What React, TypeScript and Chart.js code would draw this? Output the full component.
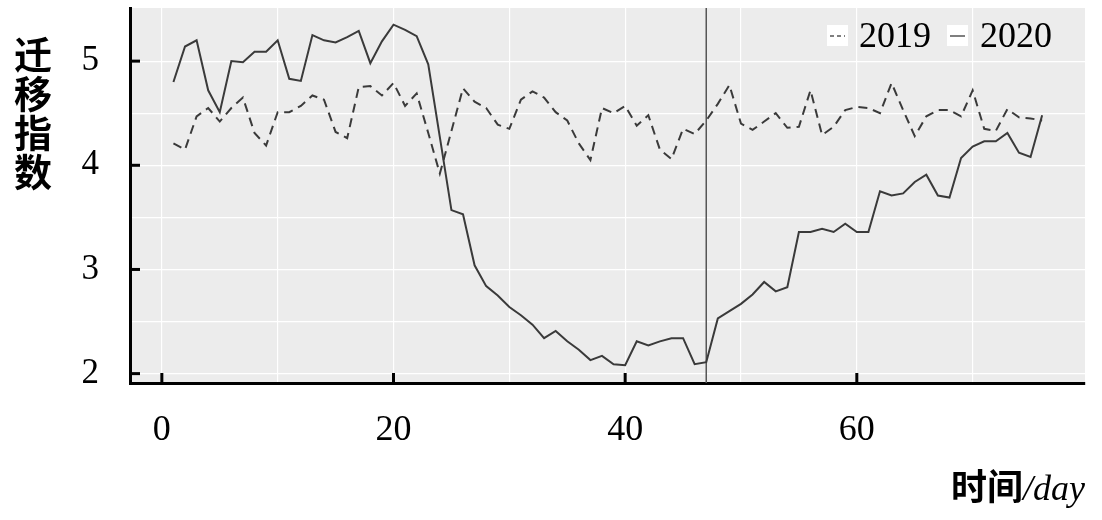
import React, { useEffect, useRef } from "react";
import { Chart, registerables } from "chart.js";

Chart.register(...registerables);

const DAYS = Array.from({ length: 76 }, (_, i) => i + 1);

const Y2019 = [
  4.21, 4.15, 4.47, 4.55, 4.42, 4.55, 4.65, 4.31, 4.19, 4.51,
  4.51, 4.57, 4.67, 4.63, 4.32, 4.26, 4.75, 4.76, 4.67, 4.79,
  4.57, 4.69, 4.31, 3.92, 4.33, 4.74, 4.61, 4.55, 4.39, 4.35,
  4.63, 4.71, 4.65, 4.51, 4.43, 4.21, 4.05, 4.55, 4.5, 4.57,
  4.38, 4.48, 4.15, 4.06, 4.35, 4.3, 4.43, 4.59, 4.77, 4.4,
  4.34, 4.42, 4.5, 4.36, 4.37, 4.72, 4.29, 4.37, 4.53, 4.56,
  4.55, 4.5, 4.79, 4.53, 4.28, 4.47, 4.53, 4.53, 4.47, 4.72,
  4.35, 4.33, 4.54, 4.46, 4.45, 4.43,
];

const Y2020 = [
  4.8, 5.14, 5.2, 4.72, 4.51, 5.0, 4.99, 5.09, 5.09, 5.2,
  4.83, 4.81, 5.25, 5.2, 5.18, 5.23, 5.29, 4.98, 5.19, 5.35,
  5.3, 5.24, 4.97, 4.27, 3.57, 3.53, 3.04, 2.84, 2.75, 2.64,
  2.56, 2.47, 2.34, 2.41, 2.31, 2.23, 2.13, 2.17, 2.09, 2.08,
  2.31, 2.27, 2.31, 2.34, 2.34, 2.09, 2.11, 2.53, 2.6, 2.67,
  2.76, 2.88, 2.79, 2.83, 3.36, 3.36, 3.39, 3.36, 3.44, 3.36,
  3.36, 3.75, 3.71, 3.73, 3.84, 3.91, 3.71, 3.69, 4.07, 4.18,
  4.23, 4.23, 4.31, 4.12, 4.08, 4.48,
];

const SERIES_LABELS = ["2019", "2020"];
const X_LABEL_TICKS = [0, 20, 40, 60];
const X_GRID_TICKS = [0, 10, 20, 30, 40, 50, 60, 70];
const Y_LABEL_TICKS = [2, 3, 4, 5];
const Y_GRID_TICKS = [2, 2.5, 3, 3.5, 4, 4.5, 5];
const MARK_DAY = 47;
const Y_TITLE = "迁移指数";
const X_TITLE_CN = "时间";
const X_TITLE_UNIT = "/day";

const SERIF = "'Liberation Serif', 'Times New Roman', serif";
const CJK = "'Noto Sans CJK SC', sans-serif";
const LINE_COLOR = "#3a3a3a";

const decorPlugin = {
  id: "decor",
  beforeDraw(chart: any) {
    const { ctx, chartArea: a } = chart;
    ctx.save();
    ctx.fillStyle = "#ececec";
    ctx.fillRect(a.left, a.top, a.right - a.left, a.bottom - a.top);
    ctx.restore();
  },
  beforeDatasetsDraw(chart: any) {
    const { ctx, chartArea: a, scales } = chart;
    const x = scales.x.getPixelForValue(MARK_DAY);
    ctx.save();
    ctx.strokeStyle = "#555";
    ctx.lineWidth = 1.5;
    ctx.beginPath();
    ctx.moveTo(x, a.top);
    ctx.lineTo(x, a.bottom);
    ctx.stroke();
    ctx.restore();
  },
  afterDraw(chart: any) {
    const { ctx, chartArea: a, scales } = chart;
    ctx.save();
    // inward ticks
    ctx.strokeStyle = "#000";
    ctx.lineWidth = 3;
    Y_LABEL_TICKS.forEach((v) => {
      const y = scales.y.getPixelForValue(v);
      ctx.beginPath();
      ctx.moveTo(a.left, y);
      ctx.lineTo(a.left + 10, y);
      ctx.stroke();
    });
    X_LABEL_TICKS.forEach((v) => {
      const x = scales.x.getPixelForValue(v);
      ctx.beginPath();
      ctx.moveTo(x, a.bottom);
      ctx.lineTo(x, a.bottom - 10);
      ctx.stroke();
    });

    // legend
    const boxes = [
      { bx: a.right - 258, tx: a.right - 226, dash: [4, 3], label: SERIES_LABELS[0] },
      { bx: a.right - 138, tx: a.right - 105, dash: [], label: SERIES_LABELS[1] },
    ];
    boxes.forEach((b) => {
      ctx.fillStyle = "#fff";
      ctx.fillRect(b.bx, 25, 21, 21);
      ctx.strokeStyle = "#555";
      ctx.lineWidth = 1.5;
      ctx.setLineDash(b.dash);
      ctx.beginPath();
      ctx.moveTo(b.bx + 3, 36);
      ctx.lineTo(b.bx + 18, 36);
      ctx.stroke();
      ctx.setLineDash([]);
      ctx.fillStyle = "#000";
      ctx.font = `36px ${SERIF}`;
      ctx.textBaseline = "alphabetic";
      ctx.textAlign = "left";
      ctx.fillText(b.label, b.tx, 47);
    });

    // y title (stacked vertical)
    ctx.font = `bold 38px ${CJK}`;
    ctx.textAlign = "center";
    ctx.textBaseline = "middle";
    ctx.fillStyle = "#000";
    Array.from(Y_TITLE).forEach((ch, i) => {
      ctx.fillText(ch, 33, 55 + i * 39);
    });

    // x title
    ctx.textBaseline = "alphabetic";
    ctx.textAlign = "left";
    ctx.font = `italic 36px ${SERIF}`;
    const wUnit = ctx.measureText(X_TITLE_UNIT).width;
    ctx.font = `bold 36px ${CJK}`;
    const wCn = ctx.measureText(X_TITLE_CN).width;
    const startX = a.right - wUnit - wCn;
    ctx.fillText(X_TITLE_CN, startX, 500);
    ctx.font = `italic 36px ${SERIF}`;
    ctx.fillText(X_TITLE_UNIT, startX + wCn, 500);
    ctx.restore();
  },
};

export default function App() {
  const ref = useRef<HTMLCanvasElement | null>(null);

  useEffect(() => {
    if (!ref.current) return;
    const chart = new Chart(ref.current, {
      type: "line",
      data: {
        datasets: [
          {
            label: SERIES_LABELS[0],
            data: DAYS.map((d, i) => ({ x: d, y: Y2019[i] })),
            borderColor: LINE_COLOR,
            borderWidth: 2,
            borderDash: [9, 6],
            pointRadius: 0,
            tension: 0,
          },
          {
            label: SERIES_LABELS[1],
            data: DAYS.map((d, i) => ({ x: d, y: Y2020[i] })),
            borderColor: LINE_COLOR,
            borderWidth: 2,
            pointRadius: 0,
            tension: 0,
          },
        ],
      },
      options: {
        animation: false,
        responsive: false,
        devicePixelRatio: 1,
        layout: { padding: { left: 0, top: 8, right: 17, bottom: 0 } },
        plugins: { legend: { display: false }, tooltip: { enabled: false } },
        scales: {
          x: {
            type: "linear",
            min: -2.75,
            max: 79.7,
            afterBuildTicks: (s: any) => {
              s.ticks = X_GRID_TICKS.map((v) => ({ value: v }));
            },
            afterFit: (s: any) => {
              s.height = 137;
              s.paddingLeft = 0;
              s.paddingRight = 0;
            },
            grid: { color: "#ffffff", lineWidth: 1.2, drawTicks: false },
            border: { display: true, color: "#000", width: 3 },
            ticks: {
              autoSkip: false,
              maxRotation: 0,
              padding: 26,
              color: "#000",
              font: { family: SERIF, size: 36 },
              callback: (v: any) => (X_LABEL_TICKS.includes(Number(v)) ? String(v) : ""),
            },
          },
          y: {
            type: "linear",
            min: 1.91,
            max: 5.51,
            afterBuildTicks: (s: any) => {
              s.ticks = Y_GRID_TICKS.map((v) => ({ value: v }));
            },
            afterFit: (s: any) => {
              s.width = 130;
              s.paddingTop = 0;
              s.paddingBottom = 0;
            },
            grid: { color: "#ffffff", lineWidth: 1.2, drawTicks: false },
            border: { display: true, color: "#000", width: 3 },
            ticks: {
              autoSkip: false,
              padding: 31,
              color: "#000",
              font: { family: SERIF, size: 35 },
              callback: (v: any) => (Y_LABEL_TICKS.includes(Number(v)) ? String(v) : ""),
            },
          },
        },
      },
      plugins: [decorPlugin],
    });
    return () => chart.destroy();
  }, []);

  return (
    <div style={{ position: "absolute", left: 0, top: 0, width: 1102, height: 520 }}>
      <canvas ref={ref} width={1102} height={520} style={{ width: 1102, height: 520 }} />
    </div>
  );
}
